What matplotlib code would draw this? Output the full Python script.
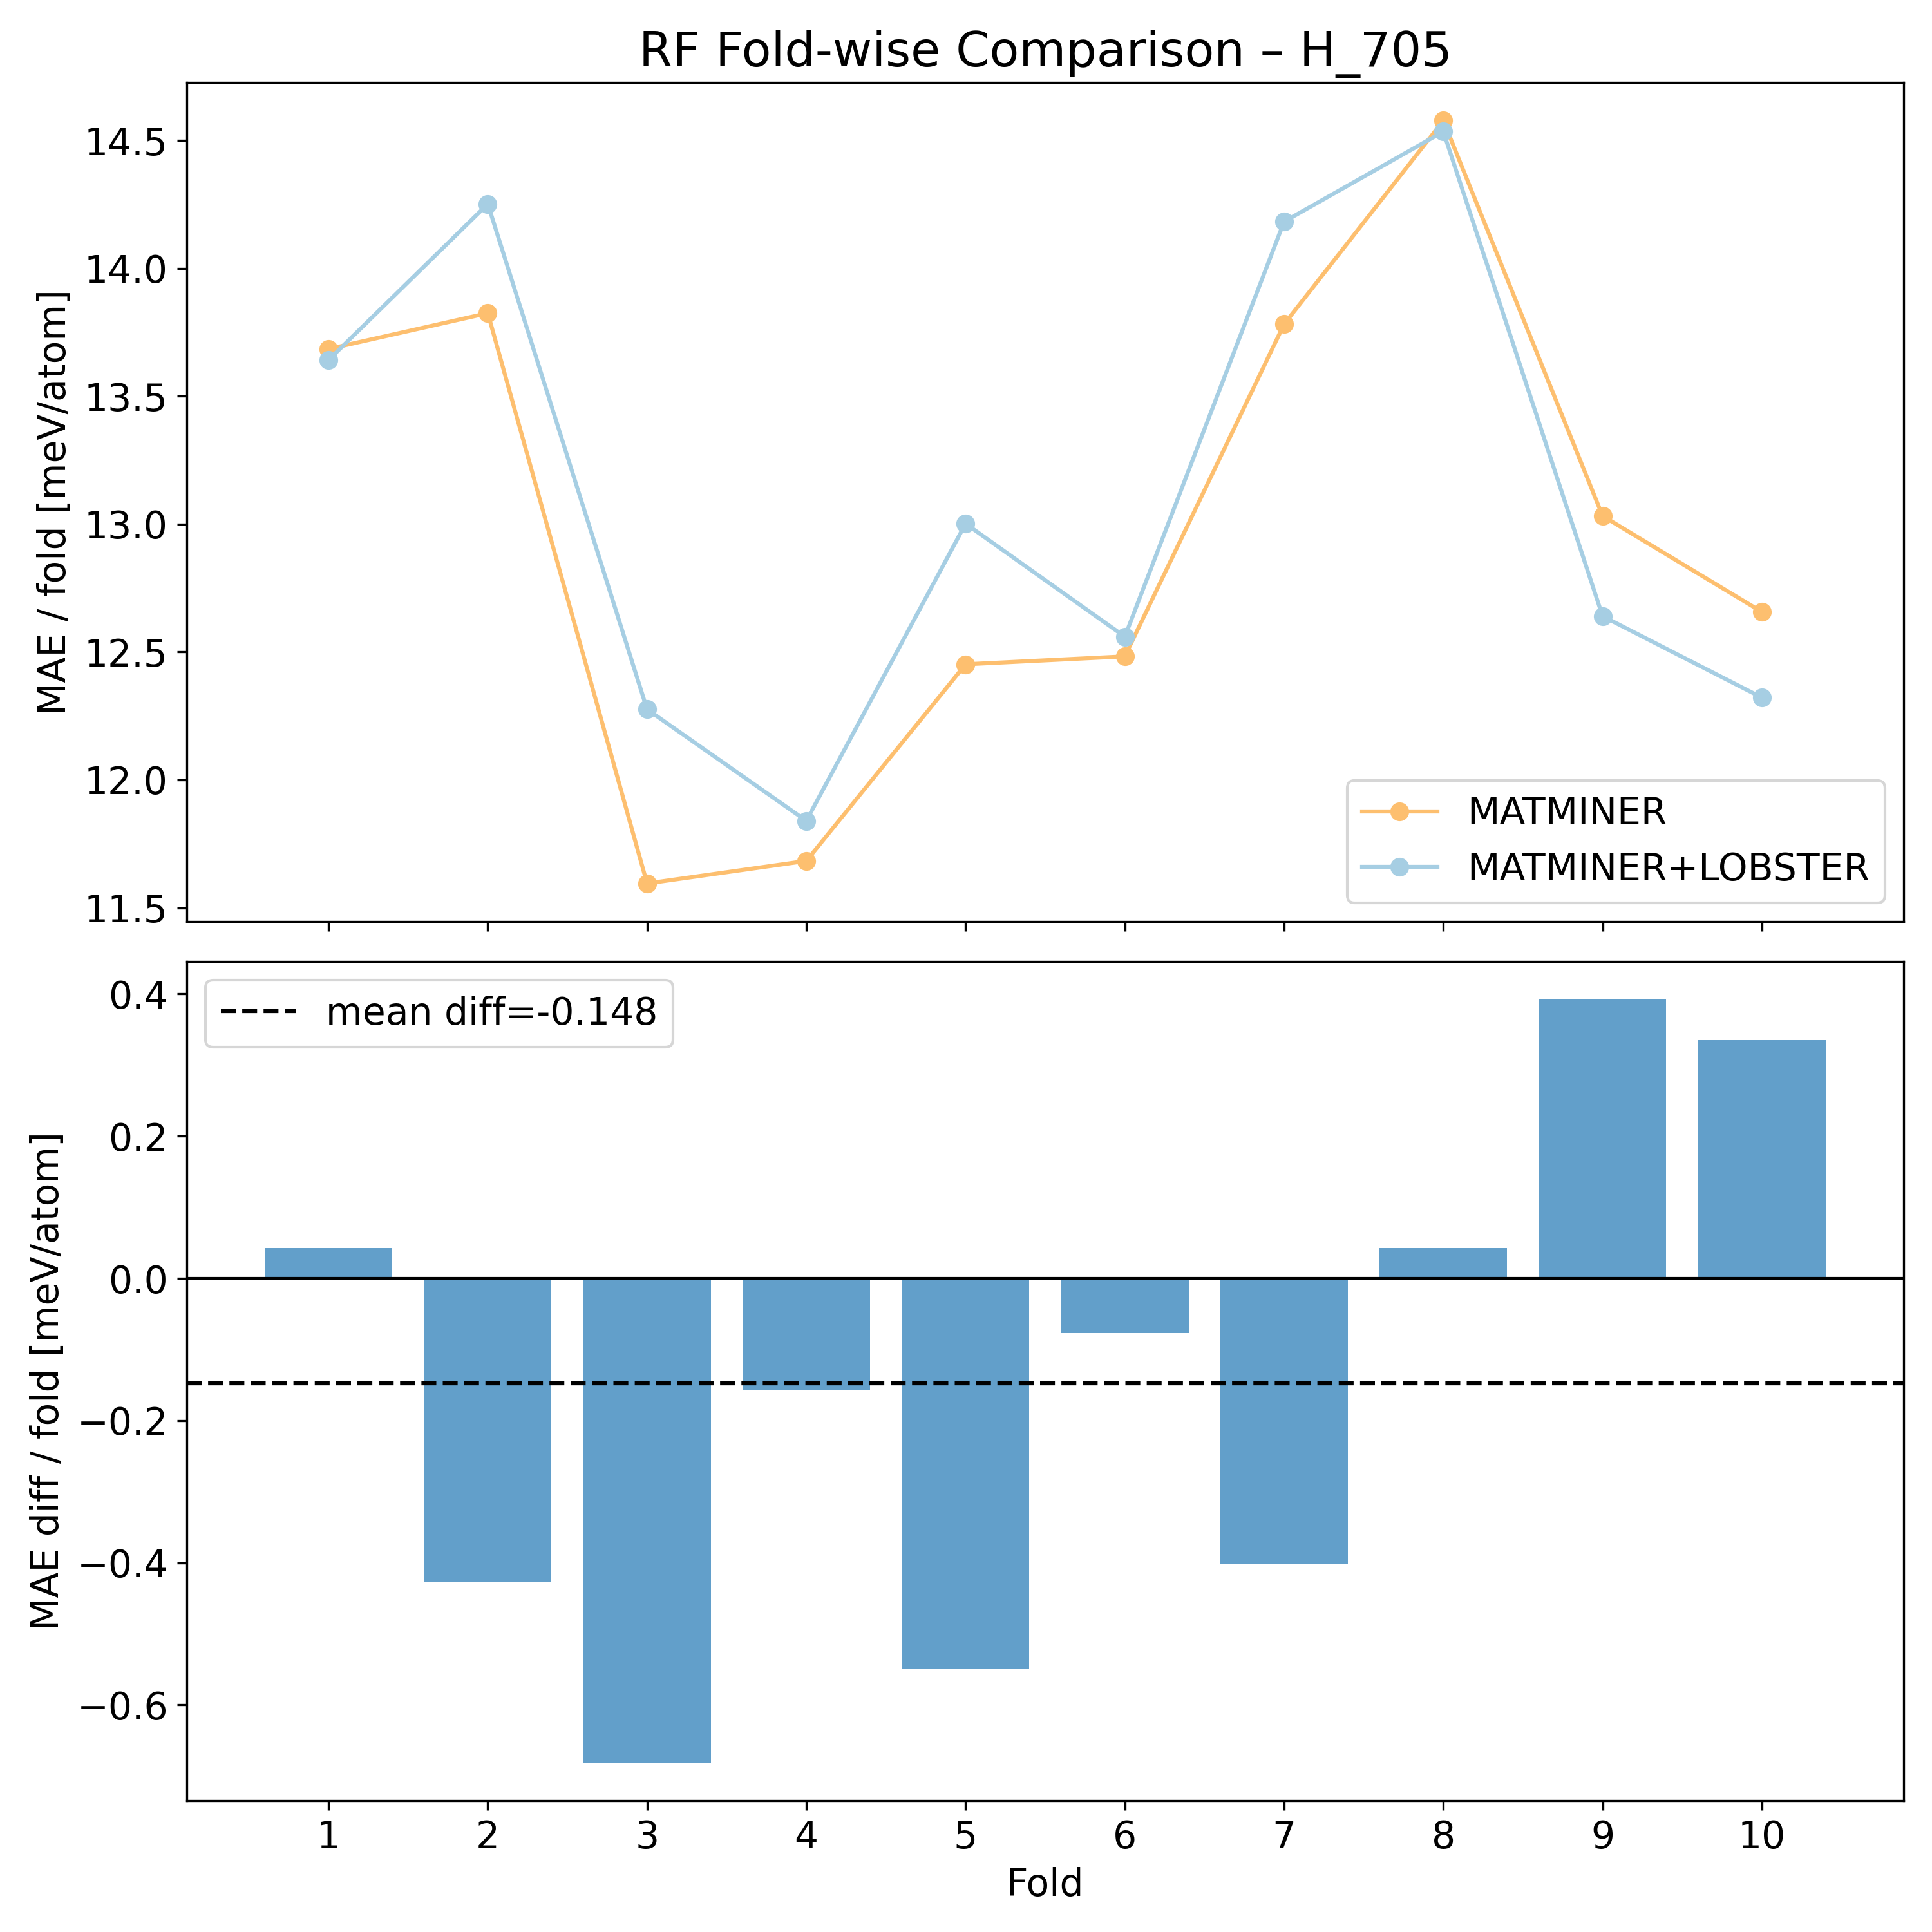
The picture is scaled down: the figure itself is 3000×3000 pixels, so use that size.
import numpy as np
import matplotlib
matplotlib.use("Agg")
import matplotlib.pyplot as plt

plt.rcParams['font.size'] = 14

folds = np.arange(1, 11)
mae_matminer = [13.685, 13.825, 11.595, 11.683, 12.452, 12.483, 13.782, 14.578, 13.032, 12.657]
mae_lobster = [13.642, 14.252, 12.276, 11.840, 13.002, 12.560, 14.183, 14.535, 12.640, 12.322]

# per-fold difference and its mean
diff = np.array(mae_matminer) - np.array(mae_lobster)
mean_diff = diff.mean()

fig, (ax1, ax2) = plt.subplots(2, 1, figsize=(10, 10), sharex=True)

ax1.plot(folds, mae_matminer, 'o-', color='#fdbf6f', label='MATMINER')
ax1.plot(folds, mae_lobster, 'o-', color='#a6cee3', label='MATMINER+LOBSTER')
ax1.set_ylabel('MAE / fold [meV/atom]')
ax1.set_title('RF Fold-wise Comparison \u2013 H_705', fontsize=18)
ax1.legend(loc='lower right')

ax2.bar(folds, diff, color='tab:blue', alpha=0.7)
ax2.axhline(0, color='black', linewidth=1.0)
ax2.axhline(mean_diff, color='black', linestyle='--', linewidth=1.5,
            label='mean diff=%.3f' % mean_diff)
ax2.set_xticks(folds)
ax2.set_xlabel('Fold')
ax2.set_ylabel('MAE diff / fold [meV/atom]')
ax2.legend(loc='upper left')

plt.subplots_adjust(left=0.0967, right=0.9853, top=0.9573, bottom=0.068, hspace=0.0476)
plt.savefig('out.png', dpi=300)
plt.close()
